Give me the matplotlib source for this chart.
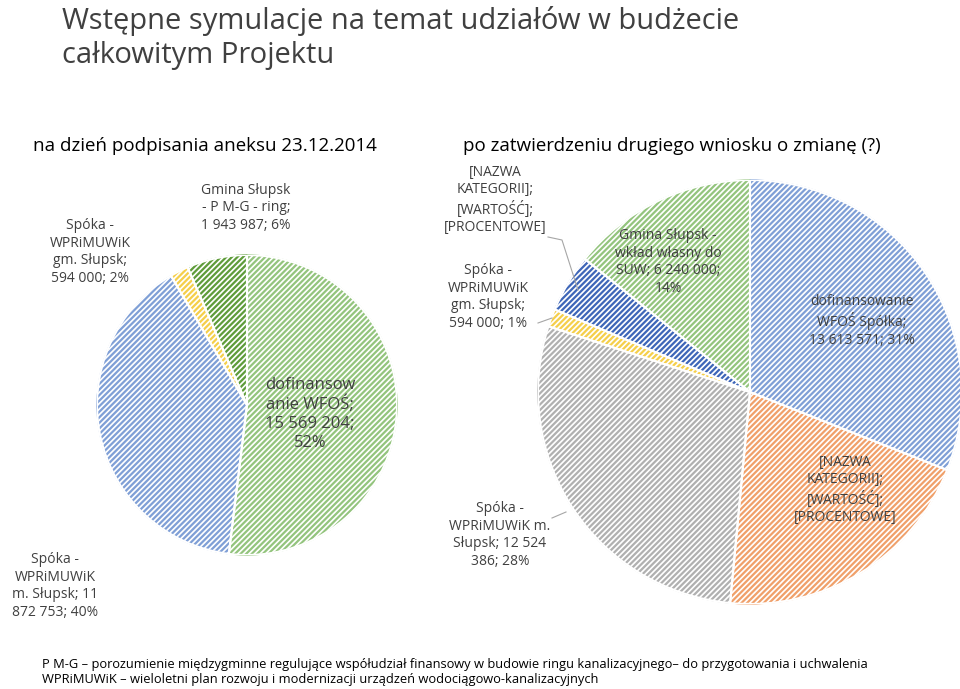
import matplotlib.pyplot as plt
import matplotlib as mpl

mpl.rcParams['hatch.linewidth'] = 1.6
W, H = 960, 689

# left pie data (clockwise from top)
left_vals = [15569204, 11872753, 594000, 1943987]
left_cols = ['#93c47d', '#7f9fd6', '#f5cf4a', '#5e9c3a']

# right pie data (clockwise from top)
right_vals = [13613571, 9000000, 12524386, 594000, 1943987, 6240000]
right_cols = ['#7f9fd6', '#f0a06a', '#b0b0b0', '#f5cf4a', '#3e66b8', '#93c47d']

fig = plt.figure(figsize=(W / 100, H / 100), dpi=100)

def px_axes(cx, cy, r):
    return fig.add_axes([(cx - r) / W, (H - cy - r) / H, 2 * r / W, 2 * r / H])

def draw_pie(ax, vals, cols):
    wedges, _ = ax.pie(vals, startangle=90, counterclock=False, radius=1)
    for w, c in zip(wedges, cols):
        w.set_facecolor('white')
        w.set_edgecolor(c)
        w.set_hatch('//////')
        w.set_linewidth(0.8)
    for w in wedges:
        ax.add_patch(mpl.patches.Wedge(w.center, w.r, w.theta1, w.theta2,
                                       fill=False, edgecolor='white', linewidth=1.5))
    ax.set_xlim(-1, 1)
    ax.set_ylim(-1, 1)
    ax.set_aspect('equal')
    ax.axis('off')

draw_pie(px_axes(247, 405, 150), left_vals, left_cols)
draw_pie(px_axes(750, 392, 212), right_vals, right_cols)

def t(x, y, s, size=11, color='#404040', ha='center', **kw):
    fig.text(x / W, 1 - y / H, s, fontsize=size, color=color, ha=ha, va='center',
             family='Open Sans', linespacing=1.25, **kw)

t(62, 38, 'Wstępne symulacje na temat udziałów w budżecie\ncałkowitym Projektu', 21, ha='left')
t(205, 146, 'na dzień podpisania aneksu 23.12.2014', 13.5, color='black')
t(672, 146, 'po zatwierdzeniu drugiego wniosku o zmianę (?)', 13.5, color='black')

t(90, 252, 'Spóka -\nWPRiMUWiK\ngm. Słupsk;\n594 000; 2%', 10)
t(246, 208, 'Gmina Słupsk\n- P M-G - ring;\n1 943 987; 6%', 10)
t(310, 414, 'dofinansow\nanie WFOŚ;\n15 569 204;\n52%', 12)
t(55, 586, 'Spóka -\nWPRiMUWiK\nm. Słupsk; 11\n872 753; 40%', 10)

t(495, 200, '[NAZWA\nKATEGORII];\n[WARTOŚĆ];\n[PROCENTOWE]', 10)
t(488, 297, 'Spóka -\nWPRiMUWiK\ngm. Słupsk;\n594 000; 1%', 10)
t(668, 262, 'Gmina Słupsk -\nwkład własny do\nSUW; 6 240 000;\n14%', 10)
t(862, 321, 'dofinansowanie\nWFOŚ Spółka;\n13 613 571; 31%', 10)
t(845, 490, '[NAZWA\nKATEGORII];\n[WARTOŚĆ];\n[PROCENTOWE]', 10)
t(500, 535, 'Spóka -\nWPRiMUWiK m.\nSłupsk; 12 524\n386; 28%', 10)

# leader lines
for xs, ys in [([548, 562, 578], [237, 240, 290]), ([538, 552], [323, 318]), ([552, 566], [518, 512])]:
    fig.add_artist(plt.Line2D([x / W for x in xs], [1 - y / H for y in ys], color='#a6a6a6', lw=0.8))

t(42, 672, 'P M-G – porozumienie międzygminne regulujące współudział finansowy w budowie ringu kanalizacyjnego– do przygotowania i uchwalenia\n'
  'WPRiMUWiK – wieloletni plan rozwoju i modernizacji urządzeń wodociągowo-kanalizacyjnych', 9.3, color='black', ha='left')

fig.savefig('out.png', dpi=100, facecolor='white')
